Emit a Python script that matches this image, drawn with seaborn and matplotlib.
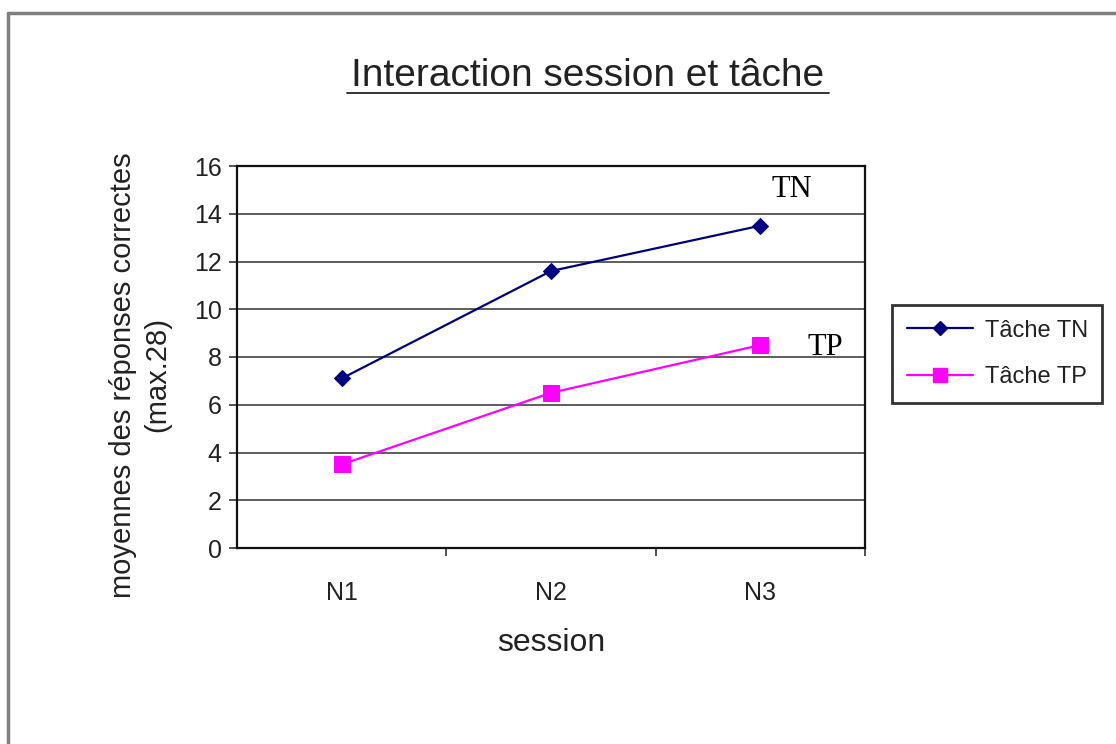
import matplotlib
matplotlib.use("Agg")
import matplotlib.pyplot as plt
import seaborn as sns
import pandas as pd
from matplotlib.lines import Line2D
from matplotlib.ticker import FixedLocator, NullFormatter

sessions = ["N1", "N2", "N3"]
tache_tn = [7.1, 11.6, 13.5]
tache_tp = [3.5, 6.5, 8.5]
series_names = ["Tâche TN", "Tâche TP"]
y_ticks = [0, 2, 4, 6, 8, 10, 12, 14, 16]

df = pd.DataFrame({
    "session": sessions * 2,
    "valeur": tache_tn + tache_tp,
    "tache": [series_names[0]] * 3 + [series_names[1]] * 3,
})

sns.set_theme(style="white")
plt.rcParams["font.family"] = ["Liberation Sans", "DejaVu Sans"]

fig = plt.figure(figsize=(11.16, 7.44), dpi=100)
fig.patch.set_facecolor("white")

# outer chart frame (top and left only, as in reference)
fig.add_artist(Line2D([8 / 1116, 1.0], [1 - 13 / 744, 1 - 13 / 744],
                      transform=fig.transFigure, color="#808080", lw=2.5))
fig.add_artist(Line2D([8 / 1116, 8 / 1116], [0.0, 1 - 13 / 744],
                      transform=fig.transFigure, color="#808080", lw=2.5))

ax = fig.add_axes([237 / 1116, 1 - 548 / 744, (865 - 237) / 1116, (548 - 166) / 744])

palette = {series_names[0]: "#000080", series_names[1]: "#FF00FF"}
markers = {series_names[0]: "D", series_names[1]: "s"}
sizes_m = {series_names[0]: 8, series_names[1]: 11}

for name in series_names:
    sub = df[df["tache"] == name]
    sns.lineplot(data=sub, x="session", y="valeur", ax=ax, color=palette[name],
                 marker=markers[name], markersize=sizes_m[name],
                 markeredgecolor=palette[name], linewidth=1.6, legend=False)

ax.set_xlim(-0.5, 2.5)
ax.set_ylim(0, 16)
ax.set_yticks(y_ticks)
ax.set_yticklabels([str(v) for v in y_ticks], fontsize=18, color="#222222")
ax.set_xticks(range(len(sessions)))
ax.set_xticklabels(sessions, fontsize=18, color="#222222")
ax.tick_params(axis="x", which="major", length=0, pad=24)
ax.xaxis.set_minor_locator(FixedLocator([0.5, 1.5, 2.5]))
ax.xaxis.set_minor_formatter(NullFormatter())
ax.tick_params(axis="x", which="minor", length=6, width=1.2, color="#333333", direction="out", bottom=True)
ax.tick_params(axis="y", length=6, width=1.2, color="#333333", direction="out", left=True, pad=5)

ax.grid(axis="y", color="#505050", linewidth=1.3)
ax.set_axisbelow(True)
for side in ["left", "bottom", "right", "top"]:
    ax.spines[side].set_visible(True)
    ax.spines[side].set_color("#111111")
    ax.spines[side].set_linewidth(1.6)

ax.set_xlabel("session", fontsize=23, color="#222222", labelpad=16)
ax.set_ylabel("moyennes des réponses correctes\n(max.28)", fontsize=21,
              color="#222222", linespacing=1.3)
ax.yaxis.set_label_coords(-0.104, 0.453)

ax.text(2.15, 15.0, "TN", family="Liberation Serif", fontsize=22, ha="center", va="center", color="black")
ax.text(2.31, 8.4, "TP", family="Liberation Serif", fontsize=22, ha="center", va="center", color="black")

fig.text(588 / 1116, 1 - 76 / 744, "Interaction session et tâche", fontsize=28,
         ha="center", va="center", color="#222222")
fig.add_artist(Line2D([347 / 1116, 829 / 1116], [1 - 93 / 744, 1 - 93 / 744],
                      transform=fig.transFigure, color="#222222", lw=1.3))

handles = [Line2D([0], [0], color=palette[n], marker=markers[n], markersize=sizes_m[n] * 0.9,
                  markeredgecolor=palette[n], lw=1.6) for n in series_names]
leg = fig.legend(handles, series_names, loc="upper left",
                 bbox_to_anchor=(892 / 1116, 1 - 305 / 744), borderaxespad=0, fontsize=17,
                 frameon=True, fancybox=False, edgecolor="black", handlelength=2.8,
                 borderpad=0.62, labelspacing=1.05, handletextpad=0.5)
leg.get_frame().set_linewidth(2)
for t in leg.get_texts():
    t.set_color("#222222")

fig.savefig("out.png", dpi=100, facecolor="white")
